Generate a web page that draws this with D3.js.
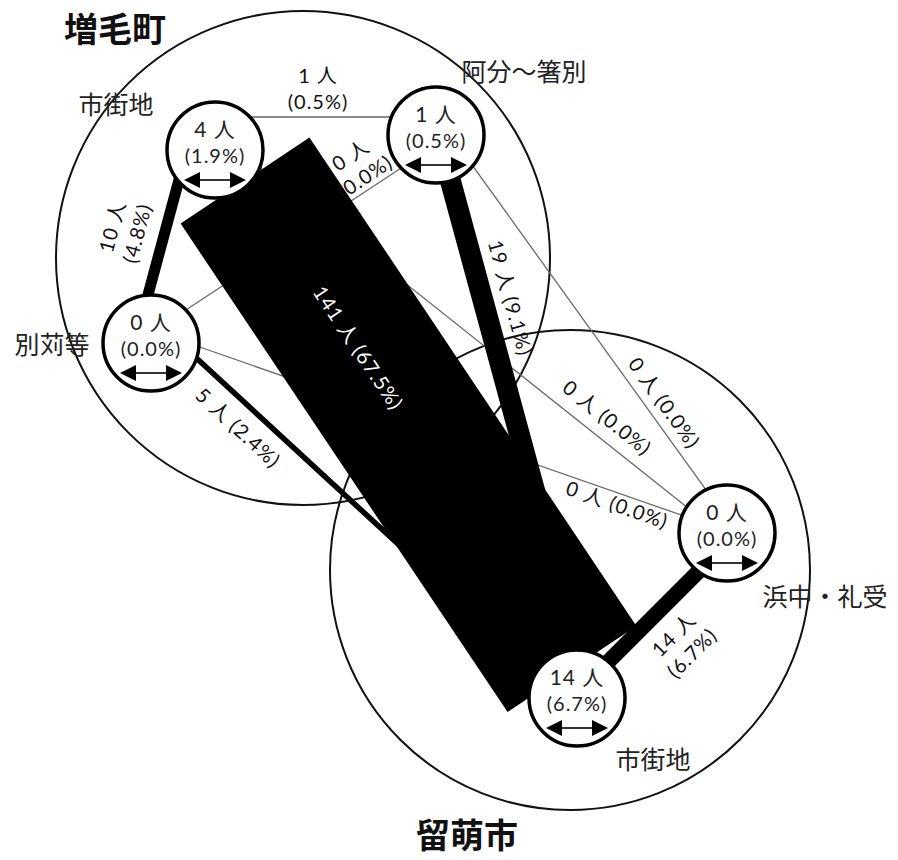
<!DOCTYPE html>
<html>
<head>
<meta charset="utf-8">
<script src="https://cdn.jsdelivr.net/npm/d3@7"></script>
<style>
  body { margin: 0; background: #fff; }
  svg { display: block; font-family: "Noto Sans CJK JP", "Noto Sans", sans-serif; }
  .num { font-family: Lato, "Noto Sans CJK JP", sans-serif; }
</style>
</head>
<body>
<svg id="chart" width="898" height="860"></svg>
<script>
/* ---- data ---- */
const towns = ['増毛町', '留萌市'];
const areaNames = ['市街地', '阿分～箸別', '別苅等', '浜中・礼受', '市街地'];
const areaCounts = [4, 1, 0, 0, 14];
const areaShares = [1.9, 0.5, 0.0, 0.0, 6.7];

// commuting flows between areas (index into areaNames)
const flowFrom   = [0, 1, 0, 2, 3, 0, 1, 1, 0, 2];
const flowTo     = [4, 4, 2, 4, 4, 1, 2, 3, 3, 3];
const flowCounts = [141, 19, 10, 5, 14, 1, 0, 0, 0, 0];
const flowShares = [67.5, 9.1, 4.8, 2.4, 6.7, 0.5, 0.0, 0.0, 0.0, 0.0];

/* ---- layout ---- */
const townCircles = [[303, 258, 247], [570, 570, 240]];
const townLabelPos = [[115, 42], [467, 848]];
const nodePos = [[215, 150], [436, 135], [151, 343], [727, 533], [577, 698]];
const nodeR = 48;
const areaLabelPos = [[116, 114], [524, 81], [52, 354], [825, 606], [653, 769]];
// where each flow leaves / enters its node, as offset from node centre
const flowAnchors = [
  [[30, 30.5], [-5, -29]],
  [[2, 0], [14, 0]],
  [[-28, 0], [-16, 0]],
  [[35, 5.5], [-12, 0]],
  [[0, 10], [0, -5]],
  [[0, -33], [0, -18]],
  [[0, 10], [0, -10]],
  [[0, -20], [0, -14]],
  [[0, -18], [0, 6]],
  [[0, -13], [0, -2]],
];
const flowLabelPos = [[358, 348], [510, 298], [125, 230], [238, 428], [683, 644],
                      [318, 89], [358, 166], [664, 403], [607, 418], [617, 505]];
const flowLabelTwoLine = [false, false, true, false, true, true, true, false, false, false];

const svg = d3.select('#chart');
const width = d3.scaleLinear().domain([0, 141]).range([0, 155]);
const fmt = d3.format('.1f');

// town outlines
svg.append('g').selectAll('circle')
  .data(townCircles)
  .enter().append('circle')
  .attr('cx', d => d[0]).attr('cy', d => d[1]).attr('r', d => d[2])
  .attr('fill', 'none').attr('stroke', '#111').attr('stroke-width', 2);

// flows
const flows = flowCounts.map((c, i) => {
  const a = nodePos[flowFrom[i]], b = nodePos[flowTo[i]];
  const [oa, ob] = flowAnchors[i];
  const x1 = a[0] + oa[0], y1 = a[1] + oa[1], x2 = b[0] + ob[0], y2 = b[1] + ob[1];
  let ang = Math.atan2(y2 - y1, x2 - x1) * 180 / Math.PI;
  if (ang > 90) ang -= 180;
  if (ang <= -90) ang += 180;
  return { i, count: c, share: flowShares[i], x1, y1, x2, y2, ang };
});

const thin = flows.filter(f => f.count < 5);
const thick = flows.filter(f => f.count >= 5);

svg.append('g').selectAll('line')
  .data(thin)
  .enter().append('line')
  .attr('x1', d => d.x1).attr('y1', d => d.y1).attr('x2', d => d.x2).attr('y2', d => d.y2)
  .attr('stroke', d => d.count > 0 ? '#8c8c8c' : '#6a6a6a')
  .attr('stroke-width', d => d.count > 0 ? 2 : 1.3);

svg.append('g').selectAll('line')
  .data(thick)
  .enter().append('line')
  .attr('x1', d => d.x1).attr('y1', d => d.y1).attr('x2', d => d.x2).attr('y2', d => d.y2)
  .attr('stroke', '#000')
  .attr('stroke-width', d => width(d.count))
  .attr('stroke-linecap', 'butt');

// flow labels
const fl = svg.append('g').selectAll('text')
  .data(flows)
  .enter().append('text')
  .attr('class', 'num')
  .attr('transform', d => `translate(${flowLabelPos[d.i][0]},${flowLabelPos[d.i][1]}) rotate(${d.ang})`)
  .attr('fill', d => d.count > 100 ? '#fff' : '#111')
  .attr('font-size', 20)
  .attr('letter-spacing', 1)
  .attr('text-anchor', 'middle');

fl.each(function (d) {
  const t = d3.select(this);
  if (flowLabelTwoLine[d.i]) {
    t.append('tspan').attr('x', 0).attr('y', -6).text(`${d.count} 人`);
    t.append('tspan').attr('x', 0).attr('y', 20).text(`(${fmt(d.share)}%)`);
  } else {
    t.attr('y', 7).text(`${d.count} 人 (${fmt(d.share)}%)`);
  }
});

// area nodes
const nodes = svg.append('g').selectAll('g')
  .data(areaNames.map((n, i) => ({ i, name: n, count: areaCounts[i], share: areaShares[i] })))
  .enter().append('g')
  .attr('transform', d => `translate(${nodePos[d.i][0]},${nodePos[d.i][1]})`);

nodes.append('circle')
  .attr('r', nodeR)
  .attr('fill', '#fff').attr('stroke', '#000').attr('stroke-width', 3.5);

const nt = nodes.append('text')
  .attr('class', 'num')
  .attr('text-anchor', 'middle').attr('fill', '#222');
nt.append('tspan')
  .attr('x', 0).attr('y', -13)
  .attr('font-size', 21).attr('letter-spacing', 1)
  .text(d => `${d.count} 人`);
nt.append('tspan')
  .attr('x', 0).attr('y', 13)
  .attr('font-size', 20).attr('letter-spacing', 1)
  .text(d => `(${fmt(d.share)}%)`);

// two-way arrow
nodes.append('line')
  .attr('x1', -18).attr('x2', 18).attr('y1', 30).attr('y2', 30)
  .attr('stroke', '#333').attr('stroke-width', 1.8);
nodes.append('path')
  .attr('d', 'M-31,30L-15,22L-15,38Z M31,30L15,22L15,38Z')
  .attr('fill', '#000');

// area names
svg.append('g').selectAll('text')
  .data(areaNames)
  .enter().append('text')
  .attr('x', (d, i) => areaLabelPos[i][0]).attr('y', (d, i) => areaLabelPos[i][1])
  .attr('text-anchor', 'middle')
  .attr('font-size', 25).attr('fill', '#222')
  .text(d => d);

// town names
svg.append('g').selectAll('text')
  .data(towns)
  .enter().append('text')
  .attr('x', (d, i) => townLabelPos[i][0]).attr('y', (d, i) => townLabelPos[i][1])
  .attr('text-anchor', 'middle')
  .attr('font-size', 34).attr('font-weight', 'bold').attr('fill', '#111')
  .text(d => d);
</script>
</body>
</html>
